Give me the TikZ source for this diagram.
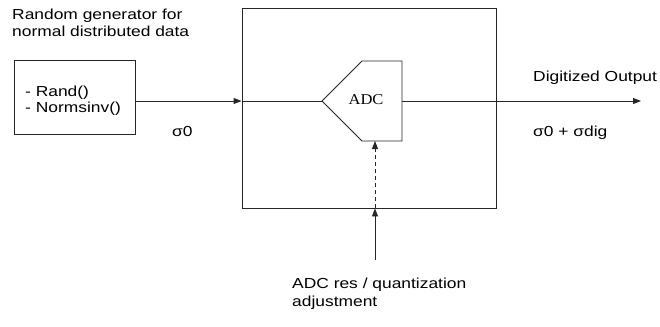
\documentclass[tikz,border=0pt]{standalone}
\usepackage{fontspec}
\setmainfont[FakeStretch=1.2]{Liberation Sans}
\newfontfamily\adcfont[FakeStretch=1.1]{Liberation Serif}
\usetikzlibrary{arrows.meta}
\begin{document}
\begin{tikzpicture}[x=1bp,y=-1bp,
  line/.style={draw=black!85,line width=0.9bp},
  arr/.style={line,-{Triangle[length=8bp,width=6bp]}},
  lbl/.style={inner sep=0pt,anchor=base west,font=\fontsize{14.5bp}{17bp}\selectfont,align=left},
  ]
\useasboundingbox (0,0) rectangle (660,326);
% title (anchor = baseline of last line)
\node[lbl] (title) at (12,36) {Random generator for\\normal distributed data};
% left box
\node[line,rectangle,minimum width=121bp,minimum height=74bp,inner sep=0pt] (gen) at (74.5,97) {};
\node[lbl,font=\fontsize{14.5bp}{15.5bp}\selectfont] (gentext) at (25,112) {- Rand()\\- Normsinv()};
% big box
\node[line,rectangle,minimum width=254bp,minimum height=200bp,inner sep=0pt] (box) at (369,108) {};
% ADC shape
\coordinate (adctip) at (322,101);
\coordinate (adctl) at (362,61);
\coordinate (adctr) at (402,61);
\coordinate (adcbr) at (402,141);
\coordinate (adcbl) at (362,141);
\coordinate (adcright) at (402,101);
\coordinate (adcbot) at (375,141);
\draw[line] (adctip) -- (adctl) -- (adctr) -- (adcbr) -- (adcbl) -- cycle;
\node[inner sep=0pt,font=\adcfont\fontsize{15bp}{18bp}\selectfont] (adc) at (366,100) {ADC};
% connectors
\draw[arr] (gen.east |- adctip) -- (box.west |- adctip);
\draw[line] (box.west |- adctip) -- (adctip);
\coordinate (outend) at (641,101);
\draw[arr] (adcright) -- (outend);
\draw[arr,dashed,dash pattern=on 4bp off 3bp] (box.south -| adcbot) -- (adcbot);
\coordinate (ctrl) at (375,260);
\draw[arr] (ctrl) -- (box.south -| ctrl);
% labels
\node[lbl] (s0) at (172,136) {σ0};
\node[lbl] (outlbl) at (533,81) {Digitized Output};
\node[lbl] (s0dig) at (533,136) {σ0 + σdig};
\node[lbl,font=\fontsize{14.5bp}{18bp}\selectfont] (ctrllbl) at (292,306) {ADC res / quantization\\adjustment};
\end{tikzpicture}
\end{document}
